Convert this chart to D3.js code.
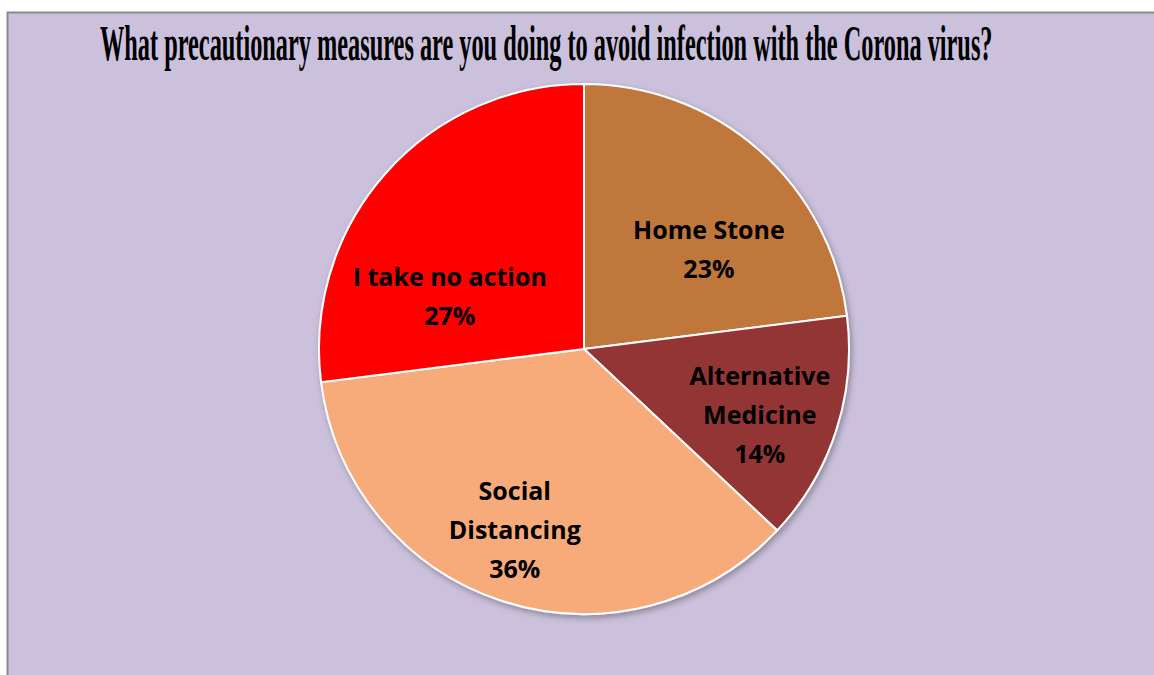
<!DOCTYPE html>
<html>
<head>
<meta charset="utf-8">
<script src="https://cdn.jsdelivr.net/npm/d3@7"></script>
<style>
  html, body { margin: 0; padding: 0; background: #fff; }
  svg { display: block; }
</style>
</head>
<body>
<div id="chart"></div>
<script>
const width = 1154;
const height = 675;

const title = 'What precautionary measures are you doing to avoid infection with the Corona virus?';
const categories = ['Home Stone', 'Alternative Medicine', 'Social Distancing', 'I take no action'];
const labelLines = [['Home Stone'], ['Alternative', 'Medicine'], ['Social', 'Distancing'], ['I take no action']];
const values = [23, 14, 36, 27];
const colors = ['#C0773A', '#943634', '#F7AB7A', '#FF0000'];

// label nudges from the centroid, in px (Excel "best fit" placement)
const nudges = [[11, 30], [12, 13], [-16, 17], [-5, 62]];

const svg = d3.select('#chart')
  .append('svg')
  .attr('width', width)
  .attr('height', height);

const defs = svg.append('defs');
const shadow = defs.append('filter')
  .attr('id', 'shadow')
  .attr('x', '-10%').attr('y', '-10%')
  .attr('width', '120%').attr('height', '120%');
shadow.append('feDropShadow')
  .attr('dx', 2).attr('dy', 3)
  .attr('stdDeviation', 3)
  .attr('flood-color', '#000')
  .attr('flood-opacity', 0.3);

// chart area
svg.append('rect')
  .attr('x', 7.5)
  .attr('y', 12.5)
  .attr('width', width + 20)
  .attr('height', height + 20)
  .attr('fill', '#CBC1DC')
  .attr('stroke', '#8a8a8a')
  .attr('stroke-width', 2);

// condensed title: squeeze horizontally to the width seen in the picture
const titleX = 100, titleW = 893;
const titleText = svg.append('text')
  .attr('x', 0)
  .attr('y', 0)
  .style('font-family', '"Liberation Serif", "DejaVu Serif", serif')
  .style('font-weight', 'bold')
  .style('font-size', '50px')
  .attr('fill', '#000')
  .text(title);
const natural = titleText.node().getComputedTextLength();
titleText.attr('transform', `translate(${titleX}, 60) scale(${titleW / natural}, 1)`);

const cx = 584, cy = 349, radius = 265;

const pie = d3.pie().sort(null).value((d) => d.value);
const arc = d3.arc().innerRadius(0).outerRadius(radius);
const labelArc = d3.arc().innerRadius(radius * 0.65).outerRadius(radius * 0.65);

const data = categories.map((c, i) => ({ name: c, value: values[i], lines: labelLines[i], i: i }));
const arcs = pie(data);

const g = svg.append('g').attr('transform', `translate(${cx}, ${cy})`);

g.append('g')
  .attr('filter', 'url(#shadow)')
  .selectAll('path')
  .data(arcs)
  .enter()
  .append('path')
  .attr('d', arc)
  .attr('fill', (d) => colors[d.data.i])
  .attr('stroke', '#fff')
  .attr('stroke-width', 2);

const lineH = 39;
const labels = g.selectAll('.label')
  .data(arcs)
  .enter()
  .append('text')
  .attr('class', 'label')
  .attr('text-anchor', 'middle')
  .style('font-family', '"Open Sans", "Noto Sans", sans-serif')
  .style('font-weight', 'bold')
  .style('font-size', '25px')
  .attr('fill', '#000')
  .attr('transform', (d) => {
    const c = labelArc.centroid(d);
    const n = nudges[d.data.i];
    return `translate(${c[0] + n[0]}, ${c[1] + n[1]})`;
  });

labels.selectAll('tspan')
  .data((d) => {
    const lines = d.data.lines.concat([Math.round(d.data.value) + '%']);
    const top = -(lines.length - 1) * lineH / 2;
    return lines.map((t, j) => ({ t: t, y: top + j * lineH }));
  })
  .enter()
  .append('tspan')
  .attr('x', 0)
  .attr('y', (d) => d.y)
  .attr('dy', '0.35em')
  .text((d) => d.t);
</script>
</body>
</html>
